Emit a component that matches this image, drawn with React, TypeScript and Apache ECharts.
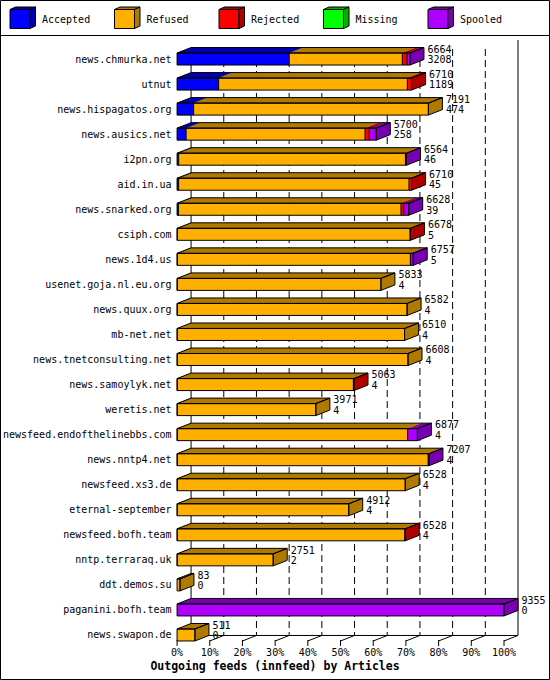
import { useEffect, useRef } from 'react';
import * as echarts from 'echarts';

// Feeds, top to bottom.
const feeds = [
  'news.chmurka.net', 'utnut', 'news.hispagatos.org', 'news.ausics.net',
  'i2pn.org', 'aid.in.ua', 'news.snarked.org', 'csiph.com', 'news.1d4.us',
  'usenet.goja.nl.eu.org', 'news.quux.org', 'mb-net.net',
  'news.tnetconsulting.net', 'news.samoylyk.net', 'weretis.net',
  'newsfeed.endofthelinebbs.com', 'news.nntp4.net', 'newsfeed.xs3.de',
  'eternal-september', 'newsfeed.bofh.team', 'nntp.terraraq.uk',
  'ddt.demos.su', 'paganini.bofh.team', 'news.swapon.de',
];

// Label numbers printed at each bar's end.
const offered = [
  6664, 6710, 7191, 5700, 6564, 6710, 6628, 6678, 6757, 5833, 6582, 6510,
  6608, 5063, 3971, 6877, 7207, 6528, 4912, 6528, 2751, 83, 9355, 511,
];

// Stacked segments, in articles.
const accepted = [
  3208, 1189, 474, 258, 46, 45, 39, 5, 5, 4, 4, 4, 4, 4, 4, 4, 4, 4, 4, 4, 2,
  0, 0, 0,
];
const refused = [
  3237, 5400, 6717, 5120, 6488, 6591, 6368, 6660, 6670, 5829, 6578, 6506,
  6604, 5040, 3967, 6595, 7180, 6524, 4908, 6514, 2749, 83, 0, 511,
];
const rejected = [
  135, 121, 0, 122, 0, 74, 78, 13, 0, 0, 0, 0, 0, 19, 0, 0, 0, 0, 0, 10, 0, 0,
  0, 0,
];
const missing = [
  0, 0, 0, 0, 0, 0, 0, 0, 0, 0, 0, 0, 0, 0, 0, 0, 0, 0, 0, 0, 0, 0, 0, 0,
];
const spooled = [
  84, 0, 0, 200, 30, 0, 143, 0, 82, 0, 0, 0, 0, 0, 0, 278, 23, 0, 0, 0, 0, 0,
  9355, 0,
];

const AXIS_MAX = 9355;
const tickValues = [0, 1, 2, 3, 4, 5, 6, 7, 8, 9, 10].map((k) => k * AXIS_MAX / 10);

const segments = [
  { name: 'Accepted', front: '#0000ff', dark: '#0000b0' },
  { name: 'Refused', front: '#ffaf00', dark: '#b07900' },
  { name: 'Rejected', front: '#ff0000', dark: '#b00000' },
  { name: 'Missing', front: '#00ff00', dark: '#00b000' },
  { name: 'Spooled', front: '#af00ff', dark: '#7900b0' },
];

const FONT = '"DejaVu Sans Mono", monospace';
const DX = 14;
const DY = 5.5;
const HALF = 6;

function renderWalls(_params: any, api: any) {
  const v = api.value(0);
  const last = feeds.length - 1;
  const xf = api.coord([v, 0])[0];
  const xb = xf + DX;
  const top = api.coord([0, 0])[1];
  const floorFront = api.coord([0, last])[1] + HALF;
  const floorBack = floorFront - DY;
  const isEdge = v === 0 || v === AXIS_MAX;
  const children: any[] = [
    {
      type: 'line',
      shape: { x1: xb, y1: v === AXIS_MAX ? top - 19 : top - 10, x2: xb, y2: floorBack },
      style: { stroke: '#000', lineWidth: 1, lineDash: isEdge ? null : [7, 4] },
    },
    {
      type: 'line',
      shape: { x1: xf, y1: floorFront, x2: xb, y2: floorBack },
      style: { stroke: '#000', lineWidth: 1 },
    },
    {
      type: 'line',
      shape: { x1: xf, y1: floorFront - 1, x2: xf, y2: floorFront + 5 },
      style: { stroke: '#000', lineWidth: 1 },
    },
  ];
  if (v === 0) {
    const xEnd = api.coord([AXIS_MAX, 0])[0] + DX;
    children.push({
      type: 'line',
      shape: { x1: xb, y1: floorBack, x2: xEnd, y2: floorBack },
      style: { stroke: '#000', lineWidth: 1 },
    });
  }
  return { type: 'group', children };
}

function renderBar(_params: any, api: any) {
  const i = api.value(0);
  const yc = api.coord([0, i])[1];
  const yt = yc - HALF;
  const yb = yc + HALF;
  const xStart = api.coord([0, i])[0];
  let xEnd = xStart;
  let cum = 0;
  const fills: any[] = [];
  const bounds: number[] = [];
  segments.forEach((seg, k) => {
    const v = api.value(k + 1);
    if (!v) return;
    const x0 = api.coord([cum, i])[0];
    cum += v;
    const x1 = api.coord([cum, i])[0];
    fills.push(
      {
        type: 'rect',
        shape: { x: x0, y: yt, width: x1 - x0, height: yb - yt },
        style: { fill: seg.front },
      },
      {
        type: 'polygon',
        shape: { points: [[x0, yt], [x0 + DX, yt - DY], [x1 + DX, yt - DY], [x1, yt]] },
        style: { fill: seg.dark },
      },
      {
        type: 'polygon',
        shape: { points: [[x1, yt], [x1 + DX, yt - DY], [x1 + DX, yb - DY], [x1, yb]] },
        style: { fill: seg.dark },
      },
    );
    bounds.push(x1);
    xEnd = x1;
  });
  bounds.pop();
  const lines = bounds.map((x) => ({
    type: 'line',
    shape: { x1: x, y1: yt, x2: x, y2: yb },
    style: { stroke: '#000', lineWidth: 1 },
  }));
  const outline = { fill: 'none', stroke: '#000', lineWidth: 1 };
  return {
    type: 'group',
    children: [
      ...fills,
      ...lines,
      {
        type: 'rect',
        shape: { x: xStart, y: yt, width: xEnd - xStart, height: yb - yt },
        style: outline,
      },
      {
        type: 'polygon',
        shape: { points: [[xStart, yt], [xStart + DX, yt - DY], [xEnd + DX, yt - DY], [xEnd, yt]] },
        style: outline,
      },
      {
        type: 'polygon',
        shape: { points: [[xEnd, yt], [xEnd + DX, yt - DY], [xEnd + DX, yb - DY], [xEnd, yb]] },
        style: outline,
      },
      {
        type: 'text',
        x: xEnd + DX + 3.5,
        y: yc - 4.5,
        style: {
          text: `${offered[i]}\n${accepted[i]}`,
          font: `10px ${FONT}`,
          fill: '#000',
          align: 'left',
          verticalAlign: 'middle',
          lineHeight: 10.5,
        },
      },
    ],
  };
}

function legendGraphics() {
  const xs = [10, 114.5, 219, 323.5, 428];
  const out: any[] = [];
  segments.forEach((seg, k) => {
    const x = xs[k];
    const t = 9.5;
    const b = 28.5;
    const stroke = { stroke: '#000', lineWidth: 1 };
    out.push(
      { type: 'rect', shape: { x, y: t, width: 20, height: b - t }, style: { fill: seg.front, ...stroke } },
      {
        type: 'polygon',
        shape: { points: [[x, t], [x + 5.5, t - 2.5], [x + 25.5, t - 2.5], [x + 20, t]] },
        style: { fill: seg.dark, ...stroke },
      },
      {
        type: 'polygon',
        shape: { points: [[x + 20, t], [x + 25.5, t - 2.5], [x + 25.5, b - 2.5], [x + 20, b]] },
        style: { fill: seg.dark, ...stroke },
      },
      {
        type: 'text',
        x: x + 32,
        y: 19.5,
        style: { text: seg.name, font: `10px ${FONT}`, fill: '#000', verticalAlign: 'middle' },
      },
    );
  });
  return out;
}

export default function App() {
  const ref = useRef<HTMLDivElement | null>(null);

  useEffect(() => {
    document.body.style.margin = '0';
    if (!ref.current) return;
    const chart = echarts.init(ref.current, undefined, { renderer: 'svg' });
    chart.setOption({
      animation: false,
      backgroundColor: '#fff',
      title: {
        text: 'Outgoing feeds (innfeed) by Articles',
        left: 'center',
        top: 660,
        padding: 0,
        textStyle: { fontFamily: FONT, fontWeight: 'bold', fontSize: 11.5, color: '#000' },
      },
      grid: { left: 177, right: 46, top: 46.5, bottom: 32.5 },
      xAxis: {
        type: 'value',
        min: 0,
        max: AXIS_MAX,
        interval: AXIS_MAX / 10,
        axisLine: { show: false },
        axisTick: { show: false },
        splitLine: { show: false },
        axisLabel: {
          margin: 0,
          fontFamily: FONT,
          fontSize: 10,
          color: '#000',
          formatter: (v: number) => `${Math.round((v / AXIS_MAX) * 100)}%`,
        },
      },
      yAxis: {
        type: 'category',
        inverse: true,
        data: feeds,
        axisLine: { show: false },
        axisTick: { show: false },
        axisLabel: { interval: 0, margin: 5.5, fontFamily: FONT, fontSize: 10, color: '#000' },
      },
      graphic: [
        {
          type: 'rect',
          shape: { x: 0.5, y: 0.5, width: 549, height: 679 },
          style: { fill: 'none', stroke: '#000', lineWidth: 1 },
        },
        {
          type: 'line',
          shape: { x1: 0, y1: 35.5, x2: 550, y2: 35.5 },
          style: { stroke: '#000', lineWidth: 1 },
        },
        ...legendGraphics(),
      ],
      series: [
        {
          type: 'custom',
          name: 'walls',
          renderItem: renderWalls,
          encode: { x: 0 },
          data: tickValues.map((v) => [v]),
          silent: true,
        },
        {
          type: 'custom',
          name: 'feeds',
          renderItem: renderBar,
          encode: { x: [1, 2, 3, 4, 5], y: 0 },
          data: feeds.map((_, i) => [i, accepted[i], refused[i], rejected[i], missing[i], spooled[i]]),
          silent: true,
        },
      ],
    });
    return () => chart.dispose();
  }, []);

  return <div ref={ref} style={{ width: 550, height: 680 }} />;
}
